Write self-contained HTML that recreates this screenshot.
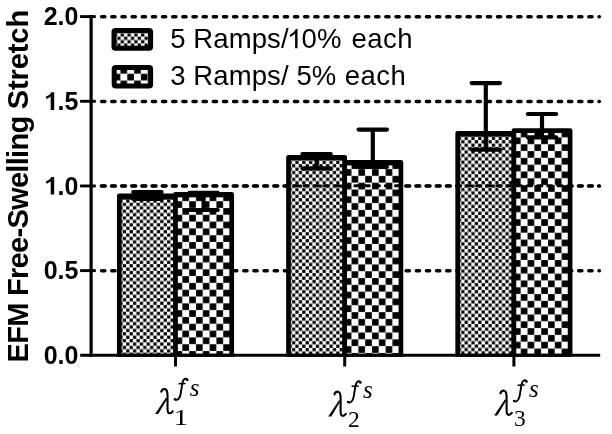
<!DOCTYPE html>
<html><head><meta charset="utf-8"><style>
html,body{margin:0;padding:0;background:#fff;}
body{width:612px;height:434px;overflow:hidden;}
svg{display:block;filter:blur(0.35px);}
.t{font-family:"Liberation Sans",sans-serif;font-weight:bold;font-size:25px;}
.lg{font-family:"Liberation Sans",sans-serif;font-size:27.5px;letter-spacing:0.1px;}
.yl{font-family:"Liberation Sans",sans-serif;font-weight:bold;font-size:29px;letter-spacing:-0.7px;}
.m{font-family:"Liberation Serif",serif;font-style:italic;}
.d{font-family:"Liberation Serif",serif;}
</style></head><body>
<svg width="612" height="434" viewBox="0 0 612 434">
<defs>
<pattern id="p0" x="119.300" y="195.950" width="6.810" height="6.810" patternUnits="userSpaceOnUse"><rect x="3.490" y="0.085" width="3.235" height="3.235" fill="#000"/><rect x="0.085" y="3.490" width="3.235" height="3.235" fill="#000"/></pattern>
<pattern id="p1" x="175.500" y="194.350" width="13.620" height="13.620" patternUnits="userSpaceOnUse"><rect x="6.912" y="0.102" width="6.606" height="6.606" fill="#000"/><rect x="0.102" y="6.912" width="6.606" height="6.606" fill="#000"/></pattern>
<pattern id="p2" x="288.500" y="157.250" width="6.810" height="6.810" patternUnits="userSpaceOnUse"><rect x="3.490" y="0.085" width="3.235" height="3.235" fill="#000"/><rect x="0.085" y="3.490" width="3.235" height="3.235" fill="#000"/></pattern>
<pattern id="p3" x="344.700" y="162.250" width="13.620" height="13.620" patternUnits="userSpaceOnUse"><rect x="6.912" y="0.102" width="6.606" height="6.606" fill="#000"/><rect x="0.102" y="6.912" width="6.606" height="6.606" fill="#000"/></pattern>
<pattern id="p4" x="457.700" y="133.300" width="6.810" height="6.810" patternUnits="userSpaceOnUse"><rect x="3.490" y="0.085" width="3.235" height="3.235" fill="#000"/><rect x="0.085" y="3.490" width="3.235" height="3.235" fill="#000"/></pattern>
<pattern id="p5" x="513.900" y="130.600" width="13.620" height="13.620" patternUnits="userSpaceOnUse"><rect x="6.912" y="0.102" width="6.606" height="6.606" fill="#000"/><rect x="0.102" y="6.912" width="6.606" height="6.606" fill="#000"/></pattern>
<pattern id="pl1" x="113.800" y="29.800" width="6.810" height="6.810" patternUnits="userSpaceOnUse"><rect x="3.490" y="0.085" width="3.235" height="3.235" fill="#000"/><rect x="0.085" y="3.490" width="3.235" height="3.235" fill="#000"/></pattern>
<pattern id="pl2" x="113.600" y="66.900" width="13.620" height="13.620" patternUnits="userSpaceOnUse"><rect x="6.912" y="0.102" width="6.606" height="6.606" fill="#000"/><rect x="0.102" y="6.912" width="6.606" height="6.606" fill="#000"/></pattern>
<g id="lam"><path d="M161.3,391.7 C162,389.9 163.6,388.9 165.1,389.1 C166.8,389.4 167.4,391.5 167.5,395 L167.5,408.5 C167.5,411.5 168,413.3 169.6,413.3 C170.8,413.3 171.9,412.5 172.7,411.3" fill="none" stroke="#000" stroke-width="2.1" stroke-linecap="round"/><path d="M165.9,397.7 L167.3,398.7 L158.2,413.9 L155.1,413.9 Z"/></g>
<g id="ff"><path d="M187.6,379.7 C186.5,378.6 184.8,378.7 183.8,379.7 C182.7,380.9 182.3,383 181.9,386 L180.7,393.5 C180,397.5 178.6,399.6 176.5,399.9 C175.7,400 175.1,399.8 174.7,399.4" fill="none" stroke="#000" stroke-width="1.9" stroke-linecap="round"/><circle cx="187.2" cy="379.9" r="1.2"/><circle cx="175.1" cy="399.3" r="1.2"/><path d="M178.5,383.7 L185.6,383.5" stroke="#000" stroke-width="1.5"/></g>
<clipPath id="cb"><rect x="0" y="0" width="612" height="356.8"/></clipPath>
</defs>
<rect width="612" height="434" fill="#fff"/>
<line x1="101.6" y1="16.80" x2="599.4" y2="16.80" stroke="#000" stroke-width="3.4" stroke-dasharray="3.3 6.85" stroke-linecap="round"/>
<line x1="101.6" y1="101.48" x2="599.4" y2="101.48" stroke="#000" stroke-width="3.4" stroke-dasharray="3.3 6.85" stroke-linecap="round"/>
<line x1="101.6" y1="186.15" x2="599.4" y2="186.15" stroke="#000" stroke-width="3.4" stroke-dasharray="3.3 6.85" stroke-linecap="round"/>
<line x1="101.6" y1="270.82" x2="599.4" y2="270.82" stroke="#000" stroke-width="3.4" stroke-dasharray="3.3 6.85" stroke-linecap="round"/>
<rect x="119.30" y="195.95" width="56.20" height="160.20" fill="#fff"/>
<rect x="119.30" y="195.95" width="56.20" height="160.20" fill="url(#p0)"/>
<rect x="119.30" y="195.95" width="56.20" height="160.20" fill="none" stroke="#000" stroke-width="4.70" stroke-linejoin="round" clip-path="url(#cb)"/>
<rect x="119.30" y="195.95" width="56.20" height="3.60" fill="#000"/>
<rect x="175.50" y="194.35" width="56.20" height="161.80" fill="#fff"/>
<rect x="175.50" y="194.35" width="56.20" height="161.80" fill="url(#p1)"/>
<rect x="175.50" y="194.35" width="56.20" height="161.80" fill="none" stroke="#000" stroke-width="4.70" stroke-linejoin="round" clip-path="url(#cb)"/>
<rect x="175.50" y="194.35" width="56.20" height="3.00" fill="#000"/>
<rect x="288.50" y="157.25" width="56.20" height="198.90" fill="#fff"/>
<rect x="288.50" y="157.25" width="56.20" height="198.90" fill="url(#p2)"/>
<rect x="288.50" y="157.25" width="56.20" height="198.90" fill="none" stroke="#000" stroke-width="4.70" stroke-linejoin="round" clip-path="url(#cb)"/>
<rect x="288.50" y="157.25" width="56.20" height="3.10" fill="#000"/>
<rect x="344.70" y="162.25" width="56.20" height="193.90" fill="#fff"/>
<rect x="344.70" y="162.25" width="56.20" height="193.90" fill="url(#p3)"/>
<rect x="344.70" y="162.25" width="56.20" height="193.90" fill="none" stroke="#000" stroke-width="4.70" stroke-linejoin="round" clip-path="url(#cb)"/>
<rect x="344.70" y="162.25" width="56.20" height="3.20" fill="#000"/>
<rect x="457.70" y="133.30" width="56.20" height="222.85" fill="#fff"/>
<rect x="457.70" y="133.30" width="56.20" height="222.85" fill="url(#p4)"/>
<rect x="457.70" y="133.30" width="56.20" height="222.85" fill="none" stroke="#000" stroke-width="4.70" stroke-linejoin="round" clip-path="url(#cb)"/>
<rect x="457.70" y="133.30" width="56.20" height="3.30" fill="#000"/>
<rect x="513.90" y="130.60" width="56.20" height="225.55" fill="#fff"/>
<rect x="513.90" y="130.60" width="56.20" height="225.55" fill="url(#p5)"/>
<rect x="513.90" y="130.60" width="56.20" height="225.55" fill="none" stroke="#000" stroke-width="4.70" stroke-linejoin="round" clip-path="url(#cb)"/>
<rect x="513.90" y="130.60" width="56.20" height="2.40" fill="#000"/>
<line x1="147.40" y1="192.10" x2="147.40" y2="199.00" stroke="#000" stroke-width="4.2"/>
<line x1="133.25" y1="192.10" x2="161.55" y2="192.10" stroke="#000" stroke-width="4.2" stroke-linecap="round"/>
<line x1="133.25" y1="199.00" x2="161.55" y2="199.00" stroke="#000" stroke-width="4.2" stroke-linecap="round"/>
<line x1="203.60" y1="192.90" x2="203.60" y2="210.00" stroke="#000" stroke-width="4.2"/>
<line x1="189.45" y1="192.90" x2="217.75" y2="192.90" stroke="#000" stroke-width="4.2" stroke-linecap="round"/>
<line x1="189.45" y1="210.00" x2="217.75" y2="210.00" stroke="#000" stroke-width="4.2" stroke-linecap="round"/>
<line x1="316.60" y1="154.10" x2="316.60" y2="168.40" stroke="#000" stroke-width="4.2"/>
<line x1="302.45" y1="154.10" x2="330.75" y2="154.10" stroke="#000" stroke-width="4.2" stroke-linecap="round"/>
<line x1="302.45" y1="168.40" x2="330.75" y2="168.40" stroke="#000" stroke-width="4.2" stroke-linecap="round"/>
<line x1="372.80" y1="129.60" x2="372.80" y2="167.00" stroke="#000" stroke-width="4.2"/>
<line x1="358.65" y1="129.60" x2="386.95" y2="129.60" stroke="#000" stroke-width="4.2" stroke-linecap="round"/>
<line x1="358.65" y1="167.00" x2="386.95" y2="167.00" stroke="#000" stroke-width="4.2" stroke-linecap="round"/>
<line x1="485.80" y1="83.10" x2="485.80" y2="149.60" stroke="#000" stroke-width="4.2"/>
<line x1="471.65" y1="83.10" x2="499.95" y2="83.10" stroke="#000" stroke-width="4.2" stroke-linecap="round"/>
<line x1="471.65" y1="149.60" x2="499.95" y2="149.60" stroke="#000" stroke-width="4.2" stroke-linecap="round"/>
<line x1="542.00" y1="114.00" x2="542.00" y2="137.30" stroke="#000" stroke-width="4.2"/>
<line x1="527.85" y1="114.00" x2="556.15" y2="114.00" stroke="#000" stroke-width="4.2" stroke-linecap="round"/>
<line x1="527.85" y1="137.30" x2="556.15" y2="137.30" stroke="#000" stroke-width="4.2" stroke-linecap="round"/>
<line x1="101.1" y1="185.65" x2="599.4" y2="185.65" stroke="#000" stroke-width="3" stroke-dasharray="4.3 5.85" stroke-linecap="round"/>
<line x1="91.1" y1="15.1" x2="91.1" y2="356.8" stroke="#000" stroke-width="3.2"/>
<line x1="80.2" y1="355.3" x2="600.2" y2="355.3" stroke="#000" stroke-width="3"/>
<line x1="80.1" y1="270.62" x2="95.8" y2="270.62" stroke="#000" stroke-width="2.9"/>
<line x1="80.1" y1="185.95" x2="95.8" y2="185.95" stroke="#000" stroke-width="2.9"/>
<line x1="80.1" y1="101.28" x2="95.8" y2="101.28" stroke="#000" stroke-width="2.9"/>
<line x1="80.1" y1="16.60" x2="95.8" y2="16.60" stroke="#000" stroke-width="2.9"/>
<line x1="175.50" y1="355" x2="175.50" y2="366.5" stroke="#000" stroke-width="3"/>
<line x1="344.70" y1="355" x2="344.70" y2="366.5" stroke="#000" stroke-width="3"/>
<line x1="513.90" y1="355" x2="513.90" y2="366.5" stroke="#000" stroke-width="3"/>
<text class="t" transform="translate(78.4,25.20) scale(1,1.030)" text-anchor="end">2.0</text>
<text class="t" transform="translate(78.4,109.88) scale(1,1.030)" text-anchor="end">.5</text>
<path d="M54.20,92.28 L51.40,92.28 C50.20,94.58 48.30,95.78 46.20,96.28 L46.20,99.08 C47.90,98.58 49.50,97.68 50.70,96.58 L50.70,109.88 L54.20,109.88 Z"/>
<text class="t" transform="translate(78.4,194.55) scale(1,1.030)" text-anchor="end">.0</text>
<path d="M54.20,176.95 L51.40,176.95 C50.20,179.25 48.30,180.45 46.20,180.95 L46.20,183.75 C47.90,183.25 49.50,182.35 50.70,181.25 L50.70,194.55 L54.20,194.55 Z"/>
<text class="t" transform="translate(78.4,279.23) scale(1,1.030)" text-anchor="end">0.5</text>
<text class="t" transform="translate(78.4,363.90) scale(1,1.030)" text-anchor="end">0.0</text>
<text class="yl" transform="translate(28.2,362.5) rotate(-90)" x="0" y="0">EFM Free-Swelling <tspan style="letter-spacing:-0.1px">Stretch</tspan></text>
<rect x="114" y="30.5" width="36.6" height="17.8" fill="#fff"/>
<rect x="114" y="30.5" width="36.6" height="17.8" fill="url(#pl1)"/>
<rect x="114" y="30.5" width="36.6" height="17.8" rx="1.5" fill="none" stroke="#000" stroke-width="5"/>
<rect x="114.2" y="67.4" width="36.4" height="18.5" fill="#fff"/>
<rect x="114.2" y="67.4" width="36.4" height="18.5" fill="url(#pl2)"/>
<rect x="114.2" y="67.4" width="36.4" height="18.5" rx="1.5" fill="none" stroke="#000" stroke-width="5"/>
<text class="lg" x="170.2" y="48.3">5 Ramps/</text>
<path d="M297.5,28.9 L295.9,28.9 C294.8,31 292.8,33.2 289.9,34.7 L289.9,37.1 C291.8,36.2 293.8,34.9 295.1,33.6 L295.1,48.3 L297.5,48.3 Z"/>
<text class="lg" x="301.5" y="48.3">0%</text>
<text class="lg" x="170.2" y="85.4">3 Ramps/ 5%</text>
<text class="lg" x="351.4" y="48.3" style="letter-spacing:0.5px">each</text>
<text class="lg" x="344.7" y="85.4" style="letter-spacing:0.5px">each</text>
<use href="#lam" transform="translate(0.0,0.0)"/>
<use href="#ff" transform="translate(0.0,0.0)"/>
<text class="m" x="189.8" y="395.6" font-size="25">s</text>
<text class="d" transform="translate(173.6,424.5) scale(1.25,1)" font-size="23.5">1</text>
<use href="#lam" transform="translate(173.1,2.6)"/>
<use href="#ff" transform="translate(173.1,2.6)"/>
<text class="m" x="362.9" y="398.2" font-size="25">s</text>
<text class="d" transform="translate(347.9,427.1) scale(1.00,1)" font-size="23.5">2</text>
<use href="#lam" transform="translate(339.1,1.6)"/>
<use href="#ff" transform="translate(339.1,1.6)"/>
<text class="m" x="528.9" y="397.2" font-size="25">s</text>
<text class="d" transform="translate(514.1,426.1) scale(1.00,1)" font-size="23.5">3</text>
</svg></body></html>
